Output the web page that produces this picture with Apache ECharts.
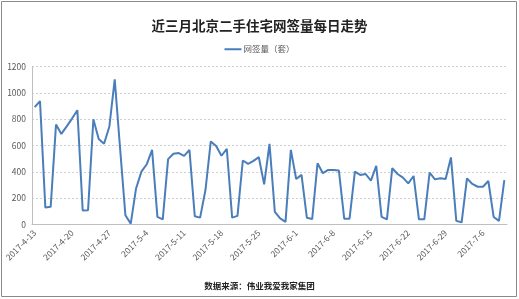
<!DOCTYPE html>
<html><head><meta charset="utf-8">
<script src="https://cdn.jsdelivr.net/npm/echarts@6/dist/echarts.min.js"></script>
<style>html,body{margin:0;padding:0;background:#fff}#c{width:519px;height:299px}</style>
</head><body><div id="c"></div>
<script>
const categories = [
'2017-4-13','2017-4-14','2017-4-15','2017-4-16','2017-4-17','2017-4-18','2017-4-19','2017-4-20','2017-4-21','2017-4-22',
'2017-4-23','2017-4-24','2017-4-25','2017-4-26','2017-4-27','2017-4-28','2017-4-29','2017-4-30','2017-5-1','2017-5-2',
'2017-5-3','2017-5-4','2017-5-5','2017-5-6','2017-5-7','2017-5-8','2017-5-9','2017-5-10','2017-5-11','2017-5-12',
'2017-5-13','2017-5-14','2017-5-15','2017-5-16','2017-5-17','2017-5-18','2017-5-19','2017-5-20','2017-5-21','2017-5-22',
'2017-5-23','2017-5-24','2017-5-25','2017-5-26','2017-5-27','2017-5-28','2017-5-29','2017-5-30','2017-5-31','2017-6-1',
'2017-6-2','2017-6-3','2017-6-4','2017-6-5','2017-6-6','2017-6-7','2017-6-8','2017-6-9','2017-6-10','2017-6-11',
'2017-6-12','2017-6-13','2017-6-14','2017-6-15','2017-6-16','2017-6-17','2017-6-18','2017-6-19','2017-6-20','2017-6-21',
'2017-6-22','2017-6-23','2017-6-24','2017-6-25','2017-6-26','2017-6-27','2017-6-28','2017-6-29','2017-6-30','2017-7-1',
'2017-7-2','2017-7-3','2017-7-4','2017-7-5','2017-7-6','2017-7-7','2017-7-8','2017-7-9','2017-7-10'];
const seriesName = '网签量（套）';
const values = [
892, 938, 128, 133, 759, 688, 746, 805, 869, 105,
107, 800, 649, 613, 745, 1104, 580, 69, 5, 273,
401, 457, 567, 56, 38, 496, 537, 542, 521, 567,
61, 51, 261, 631, 596, 522, 575, 51, 64, 486,
460, 483, 511, 304, 613, 95, 45, 18, 567, 345,
376, 50, 40, 465, 389, 414, 414, 409, 43, 43,
401, 376, 383, 332, 445, 56, 38, 427, 383, 355,
312, 368, 38, 38, 394, 342, 350, 345, 509, 26,
15, 350, 307, 286, 286, 330, 56, 26, 337];
const yTicks = {min: 0, max: 1200, interval: 200};
const titleText = '近三月北京二手住宅网签量每日走势';
const sourceText = '数据来源：伟业我爱我家集团';

const chart = echarts.init(document.getElementById('c'), null, {renderer: 'canvas'});
const font = '"Noto Sans CJK SC", "Noto Sans", sans-serif';
chart.setOption({
  backgroundColor: '#fff',
  animation: false,
  textStyle: {fontFamily: font},
  title: {
    text: titleText, left: 'center', top: 14,
    textStyle: {fontSize: 13.5, fontWeight: 'bold', color: '#222', fontFamily: font}
  },
  legend: {
    data: [{name: seriesName, icon: 'rect'}], top: 40, left: 'center', itemWidth: 17, itemHeight: 2, itemGap: 2,
    itemStyle: {color: '#4a7ebb'},
    textStyle: {fontSize: 8.5, color: '#595959', fontFamily: font, padding: [0, 0, 0, -3]}
  },
  graphic: [
    {type: 'rect', shape: {x: 1.5, y: 1.5, width: 515, height: 295}, style: {fill: 'none', stroke: '#8a8a8a', lineWidth: 1}, silent: true},
    {type: 'text', left: 'center', top: 282, style: {text: sourceText, font: 'bold 8.5px ' + font, fill: '#222'}}
  ],
  grid: {left: 32, right: 12, top: 66.7, bottom: 74.7, containLabel: false},
  xAxis: {
    type: 'category', data: categories, boundaryGap: true,
    axisLine: {lineStyle: {color: '#bfbfbf', width: 1}},
    axisTick: {interval: 6, length: 4, lineStyle: {color: '#bfbfbf'}},
    axisLabel: {interval: 6, rotate: 45, fontSize: 8.5, color: '#595959', margin: 7, fontFamily: font}
  },
  yAxis: {
    type: 'value', min: yTicks.min, max: yTicks.max, interval: yTicks.interval,
    axisLine: {show: true, lineStyle: {color: '#bfbfbf'}},
    axisTick: {show: false},
    axisLabel: {fontSize: 8.5, color: '#595959', margin: 6, fontFamily: font, formatter: v => String(v)},
    splitLine: {lineStyle: {color: '#d0d0d0', type: [2, 2], width: 1}}
  },
  series: [{
    name: seriesName, type: 'line', data: values, symbol: 'none',
    lineStyle: {color: '#4a7ebb', width: 2}, itemStyle: {color: '#4a7ebb'}
  }]
});
</script></body></html>
